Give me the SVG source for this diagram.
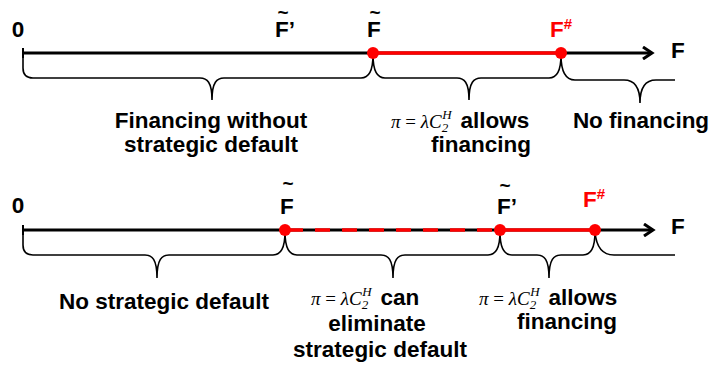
<svg xmlns="http://www.w3.org/2000/svg" width="709" height="367" viewBox="0 0 709 367">
<style>
.axis{stroke:#000;stroke-width:3;fill:none}
.red{stroke:#f00;stroke-width:3.5;fill:none}
.dash{stroke:#f00;stroke-width:3.5;fill:none;stroke-dasharray:15 12}
.brace{stroke:#000;stroke-width:1.6;fill:none}
.dot{fill:#f00}
.lbl{font-family:"Liberation Sans",Arial,sans-serif;font-weight:bold;font-size:22.5px;fill:#000}
.big{font-family:"Liberation Sans",Arial,sans-serif;font-weight:bold;font-size:22.5px;fill:#000}
.til{font-family:"Liberation Sans",Arial,sans-serif;font-weight:bold;font-size:19px;fill:#000}
.rt{fill:#f00}
.m{font-family:"Liberation Serif","Times New Roman",serif;font-style:italic;font-weight:normal;font-size:19px}
.mu{font-family:"Liberation Serif","Times New Roman",serif;font-style:normal;font-weight:normal;font-size:19px}
.ms{font-family:"Liberation Serif","Times New Roman",serif;font-style:italic;font-weight:normal;font-size:13px}
</style>
<defs>
<marker id="arr" markerWidth="14" markerHeight="14" refX="11" refY="7" orient="auto" markerUnits="userSpaceOnUse">
<path d="M2,1 L11,7 L2,13" fill="none" stroke="#000" stroke-width="3"/>
</marker>
</defs>
<g id="connectors">
<line class="axis" x1="23" y1="53" x2="652" y2="53" marker-end="url(#arr)"/>
<line class="axis" x1="23" y1="48" x2="23" y2="58" style="stroke-width:2"/>
<line class="red" x1="373" y1="53" x2="561" y2="53"/>
<path class="brace" d="M23,55 L23,68 Q23,78 33,78 L200,78 C207,78 212,82 212,100 C212,82 217,78 224,78 L361,78 Q373,78 373,55"/>
<path class="brace" d="M373,55 Q373,78 385,78 L457,78 C464,78 469,82 469,100 C469,82 474,78 481,78 L549,78 Q561,78 561,55"/>
<path class="brace" d="M561,55 Q561,80 575,80 L624,80 C633,80 640,86 640,103 C640,86 647,80 656,80 L675,80"/>
<line class="axis" x1="23" y1="230" x2="653" y2="230" marker-end="url(#arr)"/>
<line class="axis" x1="23" y1="225" x2="23" y2="235" style="stroke-width:2"/>
<line class="dash" x1="288" y1="230" x2="500" y2="230"/>
<line class="red" x1="500" y1="230" x2="595" y2="230"/>
<path class="brace" d="M23,232 L23,245 Q23,255 33,255 L145,255 C152,255 157,259 157,278 C157,259 162,255 169,255 L273,255 Q285,255 285,232"/>
<path class="brace" d="M285,232 Q285,255 297,255 L381,255 C388,255 393,259 393,278 C393,259 398,255 405,255 L488,255 Q500,255 500,232"/>
<path class="brace" d="M500,232 Q500,255 512,255 L537,255 C544,255 549,259 549,278 C549,259 554,255 561,255 L583,255 Q595,255 595,232"/>
<path class="brace" d="M595,232 Q597,255 614,255 L675,255"/>
</g>
<g id="points">
<circle class="dot" cx="373" cy="53" r="6"/>
<circle class="dot" cx="561" cy="53" r="6"/>
<circle class="dot" cx="285" cy="230" r="6"/>
<circle class="dot" cx="500" cy="230" r="6"/>
<circle class="dot" cx="595" cy="230" r="6"/>
</g>
<g id="top-axis-labels">
<text class="big" x="18" y="37" text-anchor="middle">0</text>
<text class="big" x="275" y="37">F’</text>
<text class="til" x="283" y="19" text-anchor="middle">~</text>
<text class="big" x="367" y="37">F</text>
<text class="til" x="375" y="19" text-anchor="middle">~</text>
<text class="big rt" x="550" y="37">F<tspan font-size="15" dy="-8">#</tspan></text>
<text class="big" x="671" y="58">F</text>
</g>
<g id="bottom-axis-labels">
<text class="big" x="18" y="213" text-anchor="middle">0</text>
<text class="big" x="280" y="214">F</text>
<text class="til" x="288" y="190" text-anchor="middle">~</text>
<text class="big" x="497" y="214">F’</text>
<text class="til" x="505" y="192" text-anchor="middle">~</text>
<text class="big rt" x="583" y="207">F<tspan font-size="15" dy="-8">#</tspan></text>
<text class="big" x="671" y="234">F</text>
</g>
<g id="top-labels">
<text class="lbl" x="211" y="128" text-anchor="middle">Financing without</text>
<text class="lbl" x="211" y="152" text-anchor="middle">strategic default</text>
<text class="lbl" x="391" y="128"><tspan class="m">π</tspan><tspan class="mu"> = </tspan><tspan class="m">λC</tspan><tspan class="ms" dy="4">2</tspan><tspan class="ms" dx="-6" dy="-13">H</tspan><tspan dx="9" dy="9">allows</tspan></text>
<text class="lbl" x="481" y="152" text-anchor="middle">financing</text>
<text class="lbl" x="641" y="128" text-anchor="middle">No financing</text>
</g>
<g id="bottom-labels">
<text class="lbl" x="164" y="309" text-anchor="middle">No strategic default</text>
<text class="lbl" x="311" y="305"><tspan class="m">π</tspan><tspan class="mu"> = </tspan><tspan class="m">λC</tspan><tspan class="ms" dy="4">2</tspan><tspan class="ms" dx="-6" dy="-13">H</tspan><tspan dx="9" dy="9">can</tspan></text>
<text class="lbl" x="377" y="331" text-anchor="middle">eliminate</text>
<text class="lbl" x="380" y="357" text-anchor="middle">strategic default</text>
<text class="lbl" x="479" y="305"><tspan class="m">π</tspan><tspan class="mu"> = </tspan><tspan class="m">λC</tspan><tspan class="ms" dy="4">2</tspan><tspan class="ms" dx="-6" dy="-13">H</tspan><tspan dx="9" dy="9">allows</tspan></text>
<text class="lbl" x="567" y="329" text-anchor="middle">financing</text>
</g>
</svg>
